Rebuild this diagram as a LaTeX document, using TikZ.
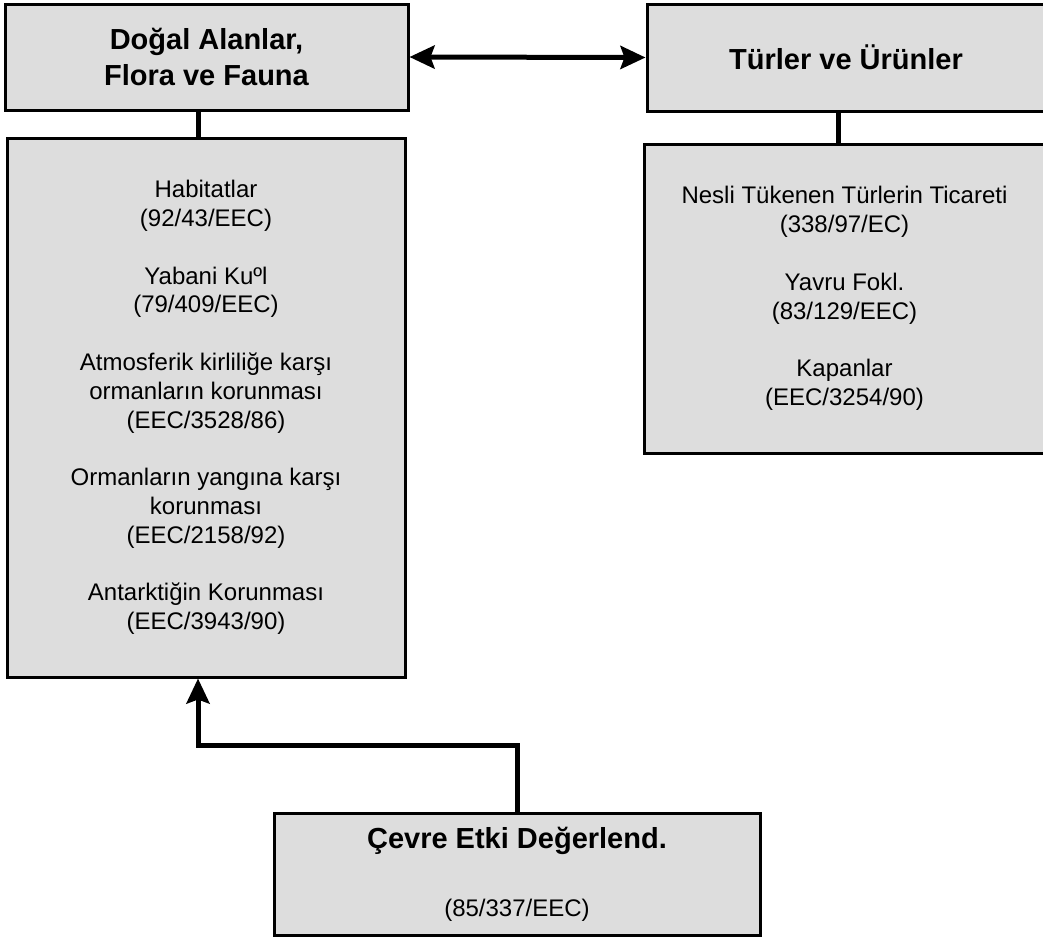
\documentclass[tikz,border=0pt]{standalone}
\usepackage{fontspec}
\setmainfont{Liberation Sans}
\usetikzlibrary{arrows.meta}
\definecolor{boxgray}{RGB}{221,221,221}
\newcommand{\titlefont}{\fontsize{29}{36}\selectfont\bfseries}
\newcommand{\bodyfont}{\fontsize{24}{28.8}\selectfont}
\tikzset{
  box/.style={draw=black,line width=3pt,fill=boxgray,inner sep=0pt,align=center},
  link/.style={line width=5pt},
  tip/.style={-{Stealth[length=25pt,width=23pt,inset=4pt]}},
  bothtips/.style={{Stealth[length=25pt,width=23pt,inset=4pt]}-{Stealth[length=25pt,width=23pt,inset=4pt]}}
}

\begin{document}
\begin{tikzpicture}[x=1pt,y=-1pt]
\useasboundingbox (0,0) rectangle (1043,937);
\clip (0,0) rectangle (1043,937);
\node[box,minimum width=403pt,minimum height=106pt,font=\titlefont] (dogal) at (206.5,57) {Doğal Alanlar,\\Flora ve Fauna};
\node[box,minimum width=398pt,minimum height=107pt,font=\titlefont] (turler) at (846,57.5) {Türler ve Ürünler};
\node[box,minimum width=398pt,minimum height=539pt,font=\bodyfont] (habitat) at (206,407.5) {Habitatlar\\(92/43/EEC)\\[28.8pt]Yabani Kuºl\\(79/409/EEC)\\[28.8pt]Atmosferik kirliliğe karşı\\ormanların korunması\\(EEC/3528/86)\\[28.8pt]Ormanların yangına karşı\\korunması\\(EEC/2158/92)\\[28.8pt]Antarktiğin Korunması\\(EEC/3943/90)};
\node[box,minimum width=401pt,minimum height=309pt,font=\bodyfont] (ticaret) at (844.5,298.5) {Nesli Tükenen Türlerin Ticareti\\(338/97/EC)\\[28.8pt]Yavru Fokl.\\(83/129/EEC)\\[28.8pt]Kapanlar\\(EEC/3254/90)};
\node[box,minimum width=486pt,minimum height=122pt,font=\bodyfont] (cevre) at (517,874) {{\titlefont Çevre Etki Değerlend.}\\[39pt](85/337/EEC)};

\draw[link,bothtips] (dogal.east) -- (turler.west);
\draw[link] ([xshift=-8.5pt]dogal.south) -- ([xshift=-8pt]habitat.north);
\draw[link] ([xshift=-8pt]turler.south) -- ([xshift=-6.5pt]ticaret.north);
\coordinate (bend) at (198,745);
\draw[link,tip] (cevre.north) |- (bend) -- (habitat.south -| bend);
\end{tikzpicture}
\end{document}
